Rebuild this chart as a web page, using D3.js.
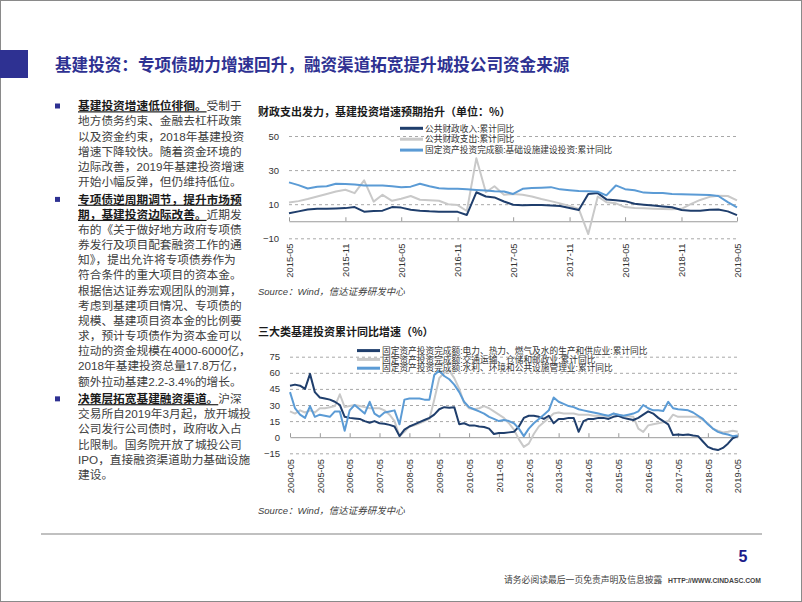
<!DOCTYPE html>
<html><head><meta charset="utf-8">
<script src="https://cdn.jsdelivr.net/npm/d3@7"></script>
<style>body{margin:0;background:#fff}svg{display:block}</style>
</head><body>
<svg id="s" width="802" height="602"></svg>
<script>
// ---------------- DATA ----------------
const pageTitle = "基建投资：专项债助力增速回升，融资渠道拓宽提升城投公司资金来源";
const topTitle = "财政支出发力，基建投资增速预期抬升（单位：%）";
const topStart = "2015-05";
const topTickLabels = ["2015-05","2015-11","2016-05","2016-11","2017-05","2017-11","2018-05","2018-11","2019-05"];
const topYTicks = [50, 30, 10, -10];
const topNames = ["公共财政收入:累计同比", "公共财政支出:累计同比", "固定资产投资完成额:基础设施建设投资:累计同比"];
const revenue = [4.7,5.8,6.9,7.4,7.3,7.5,7.7,8.3,5.6,6.0,
  6.2,8.3,8.0,6.8,6.2,5.8,5.6,5.6,5.5,3.7,
  17.0,14.5,14.0,11.6,9.7,9.4,9.6,9.5,9.3,8.9,
  7.8,6.6,16.0,16.5,12.8,12.3,11.8,10.3,9.7,9.2,
  8.7,8.2,6.6,6.1,6.2,6.8,6.9,5.8,3.6];
const expenditure = [11.0,11.8,13.0,14.5,16.0,17.5,18.5,16.5,24.0,11.5,
  15.5,12.0,13.2,14.8,12.6,12.3,12.0,10.0,9.5,6.0,
  37.0,17.0,20.5,15.5,16.0,15.5,14.5,13.0,11.8,10.5,
  9.0,7.2,-7.5,14.5,11.2,10.5,8.3,7.8,7.6,7.4,
  7.2,7.0,7.3,10.0,12.5,14.3,15.0,14.8,12.2];
const infra = [22.8,21.2,19.2,20.2,20.5,22.0,21.8,21.6,21.0,21.0,
  21.0,20.5,20.0,20.3,22.0,20.5,19.3,19.0,19.0,18.7,
  18.3,18.0,17.6,17.4,16.0,19.0,19.5,19.7,20.0,18.7,
  18.2,17.8,17.6,17.3,15.2,21.0,18.8,18.2,16.8,16.6,
  16.5,16.0,15.8,15.7,15.6,15.4,14.8,11.2,8.2];

const botTitle = "三大类基建投资累计同比增速（%）";
const botStart = "2004-05"; // points every 2 months
const botTickLabels = ["2004-05","2005-05","2006-05","2007-05","2008-05","2009-05","2010-05","2011-05","2012-05","2013-05","2014-05","2015-05","2016-05","2017-05","2018-05","2019-05"];
const botYTicks = [75, 60, 45, 30, 15, 0, -15];
const botNames = ["固定资产投资完成额:电力、热力、燃气及水的生产和供应业:累计同比",
  "固定资产投资完成额:交通运输、仓储和邮政业:累计同比",
  "固定资产投资完成额:水利、环境和公共设施管理业:累计同比"];
const power = [48,49,48,45,59,42, 37,36,35,33,30,19, 18,17.5,17,15,13.5,15,
  13,12.5,11.5,10,1,7, 10,12,14,16,18,21, 26,28,27.5,28,12,13,
  11,11,10,9.5,8,3, 4,4,4.5,5,10,18, 20,20,19,17,20,13,
  17,17,18,18,5,15, 17,17,18,18,17,19, 20,18,17,16,18,21,
  24,22,18,15,12,2, 2.5,2,2.5,1.5,1,-4, -9,-11,-12,-10,-6,-1, 1];
const transport = [24,22,25,23,25,23, 27,27,28,29,40,28, 29,30,29,28,27,27,
  27,25,21,15,1,5, 10,11,13,15,17,35, 55,60,62,55,45,32,
  27,26,27,29,27,24, 21,18,13,7,-2,-9, -6,3,10,14,18,22,
  23,22,22,22,21,21, 21,20,20,20,19,22, 21,20,19.5,19,8,5,
  11,12,13,14,15,21, 19,19,19,19,19,16, 13,8,6,4.5,5,6, 5];
const water = [42,27,21,18,29,19, 21,20,19,24,24,6, 25,30,26,22,33,22,
  19,23,24,25,12,35, 36,36,36,35,35,58, 62,57,54,49,42,33,
  28,26,24,22,19,17, 15,16,15,13,8,1, 8,13,17,21,25,37,
  33,31,29,28,26,25, 24,23,22,21,20,22, 21,20,21,22,24,30,
  27,25,25,24.5,33,27, 26,25.5,25,23,20,17, 12,8,5,3.5,2.5,1, 1.5];

const sourceText = "Source：Wind，信达证券研发中心";

const paragraphs = [
  [[["基建投资增速低位徘徊。",1],["受制于",0]],[["地方债务约束、金融去杠杆政策",0]],[["以及资金约束，2018年基建投资",0]],
   [["增速下降较快。随着资金环境的",0]],[["边际改善，2019年基建投资增速",0]],[["开始小幅反弹，但仍维持低位。",0]]],
  [[["专项债逆周期调节，提升市场预",1]],[["期，基建投资边际改善。",1],["近期发",0]],[["布的《关于做好地方政府专项债",0]],
   [["券发行及项目配套融资工作的通",0]],[["知》，提出允许将专项债券作为",0]],[["符合条件的重大项目的资本金。",0]],
   [["根据信达证券宏观团队的测算，",0]],[["考虑到基建项目情况、专项债的",0]],[["规模、基建项目资本金的比例要",0]],
   [["求，预计专项债作为资本金可以",0]],[["拉动的资金规模在4000-6000亿，",0]],[["2018年基建投资总量17.8万亿，",0]],
   [["额外拉动基建2.2-3.4%的增长。",0]]],
  [[["决策层拓宽基建融资渠道。",1],["沪深",0]],[["交易所自2019年3月起，放开城投",0]],[["公司发行公司债时，政府收入占",0]],
   [["比限制。国务院开放了城投公司",0]],[["IPO，直接融资渠道助力基础设施",0]],[["建设。",0]]]
];

// ---------------- DRAW ----------------
const svg = d3.select("#s");
const LAT = "'Liberation Sans', Arial, 'Noto Sans CJK SC', sans-serif";
const CJK = "'Noto Sans CJK SC', sans-serif";
const NAVY = "#1f3e6c", GRAY = "#c9c9c9", BLUE = "#5b9bd5", INDIGO = "#2e3192";

svg.append("rect").attr("x",0.5).attr("y",0.5).attr("width",801).attr("height",601)
  .attr("fill","#fff").attr("stroke","#8a8a8a");
svg.append("rect").attr("x",0).attr("y",50).attr("width",28).attr("height",28).attr("fill",INDIGO);
svg.append("text").attr("x",55).attr("y",71.3).text(pageTitle)
  .attr("font-family",CJK).attr("font-size",16.6).attr("font-weight","bold").attr("fill",INDIGO);

// left text
{
  const LH = 15.15, GAP = 2.5, FS = 11.7;
  let yc = 106;
  paragraphs.forEach((para, pi) => {
    svg.append("rect").attr("x",55).attr("y",yc-2.5).attr("width",5).attr("height",5).attr("fill",INDIGO);
    para.forEach(line => {
      const t = svg.append("text").attr("x",78).attr("y",yc+4.3)
        .attr("font-family",LAT).attr("font-size",FS).attr("fill","#404040");
      line.forEach(([s,b]) => {
        const ts = t.append("tspan").text(s);
        if (b) ts.attr("font-weight","bold").attr("fill","#1a1a1a").attr("text-decoration","underline");
      });
      yc += LH;
    });
    yc += GAP;
  });
}

// footer
svg.append("line").attr("x1",41).attr("x2",762).attr("y1",534).attr("y2",534).attr("stroke","#c0c0c0").attr("stroke-width",2);
svg.append("text").attr("x",743).attr("y",562).attr("text-anchor","middle").text("5")
  .attr("font-family",LAT).attr("font-size",16).attr("font-weight","bold").attr("fill","#1c1c8a");
svg.append("text").attr("x",504).attr("y",583).text("请务必阅读最后一页免责声明及信息披露")
  .attr("font-family",CJK).attr("font-size",8.8).attr("fill","#444");
svg.append("text").attr("x",668).attr("y",583).text("HTTP://WWW.CINDASC.COM")
  .attr("font-family",LAT).attr("font-size",7).attr("font-weight","bold").attr("fill","#444")
  .attr("textLength",93).attr("lengthAdjust","spacingAndGlyphs");

const parse = d3.timeParse("%Y-%m");
const fmt = d3.timeFormat("%Y-%m");

function chart(o) {
  const g = svg.append("g");
  const x = d3.scaleTime().domain([parse(o.ticks[0]), parse(o.ticks[o.ticks.length-1])]).range(o.xr);
  const y = d3.scaleLinear().domain(o.yd).range(o.yr);
  const W = o.xr[1]-o.xr[0];
  g.append("text").attr("x",258).attr("y",o.titleY).text(o.title)
    .attr("font-family",CJK).attr("font-size",11).attr("font-weight","bold").attr("fill","#1a1a1a");
  const grid = g.append("g").attr("transform",`translate(${o.xr[0]},0)`)
    .call(d3.axisLeft(y).tickValues(o.yticks.filter(v=>v!==0)).tickSize(-W).tickFormat(""));
  grid.select(".domain").remove();
  grid.selectAll("line").attr("stroke","#a8a8a8").attr("stroke-dasharray","3,3");
  const yl = g.append("g").attr("transform",`translate(${o.xr[0]-10},0)`)
    .call(d3.axisLeft(y).tickValues(o.yticks).tickSize(0).tickPadding(0));
  yl.select(".domain").remove();
  yl.selectAll("text").attr("font-family",LAT).attr("font-size",9.5).attr("fill","#333");
  const tickDates = o.ticks.map(parse);
  const za = g.append("g").attr("transform",`translate(0,${y(0)})`)
    .call(d3.axisBottom(x).tickValues(tickDates).tickSizeInner(-4).tickSizeOuter(0).tickFormat(""));
  za.select(".domain").attr("stroke","#9a9a9a");
  za.selectAll("line").attr("stroke","#9a9a9a");
  const xl = g.append("g").attr("transform",`translate(0,${o.labelY})`)
    .call(d3.axisBottom(x).tickValues(tickDates).tickSize(0).tickFormat(fmt));
  xl.select(".domain").remove();
  xl.selectAll("text").attr("font-family",LAT).attr("font-size",9.3).attr("fill","#333")
    .attr("x",0).attr("y",0).attr("dy","0.35em").attr("text-anchor","end").attr("transform","rotate(-90)");
  const start = parse(o.start);
  const line = d3.line().x(d=>x(d[0])).y(d=>y(d[1]));
  o.order.forEach(i => {
    const s = o.series[i];
    const pts = s.map((v,k)=>[d3.timeMonth.offset(start, k*o.step), v]);
    g.append("path").attr("d",line(pts)).attr("fill","none").attr("stroke",o.colors[i])
      .attr("stroke-width",2).attr("stroke-linejoin","round");
  });
  o.names.forEach((n,i) => {
    const ly = o.legY + i*o.legDY;
    g.append("line").attr("x1",o.legX).attr("x2",o.legX+23).attr("y1",ly).attr("y2",ly)
      .attr("stroke",o.colors[i]).attr("stroke-width",3);
    g.append("text").attr("x",o.legX+25).attr("y",ly+3.2).text(n)
      .attr("font-family",LAT).attr("font-size",8.7).attr("fill","#333");
  });
  g.append("text").attr("x",258).attr("y",o.srcY).text(sourceText)
    .attr("font-family",LAT).attr("font-size",9.5).attr("font-style","italic").attr("fill","#404040");
}

chart({title: topTitle, titleY: 116, ticks: topTickLabels, xr:[289,737], yd:[-10,50], yr:[238.3,136],
  yticks: topYTicks, labelY: 243.5, start: topStart, step: 1, series:[revenue, expenditure, infra],
  colors:[NAVY, GRAY, BLUE], order:[1,0,2], names: topNames, legX: 400, legY: 128.3, legDY: 10.9, srcY: 295});

chart({title: botTitle, titleY: 335.5, ticks: botTickLabels, xr:[290,737.7], yd:[-15,75], yr:[453.3,356.7],
  yticks: botYTicks, labelY: 459, start: botStart, step: 2, series:[power, transport, water],
  colors:[NAVY, GRAY, BLUE], order:[1,0,2], names: botNames, legX: 357, legY: 350.6, legDY: 8.8, srcY: 514});
</script>
</body></html>
